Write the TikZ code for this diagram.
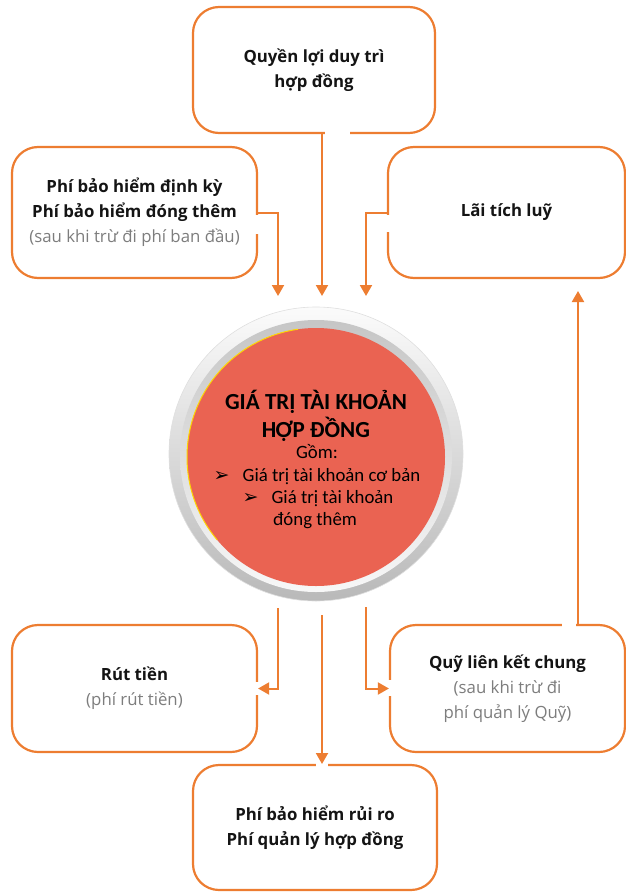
\documentclass[tikz,border=0pt]{standalone}
\usepackage{fontspec}
\setmainfont{Open Sans}
\newfontfamily\carlito{Carlito}
\newfontfamily\dejavu{DejaVu Sans}
\usetikzlibrary{arrows.meta}
\definecolor{orng}{RGB}{237,125,49}
\definecolor{redc}{RGB}{234,99,82}
\definecolor{graytxt}{RGB}{125,125,125}
\definecolor{darktxt}{RGB}{20,20,20}
\begin{document}
\begin{tikzpicture}[x=1pt,y=-1pt,
  box/.style={draw=orng, line width=2.2pt, rounded corners=26pt, fill=white,
    align=center, inner sep=0pt, text=darktxt,
    font=\fontsize{16.8}{25}\selectfont},
  arr/.style={draw=orng, line width=2pt, -{Triangle[width=12pt,length=11pt]}},
  gapline/.style={draw=white, line width=4pt},
  ctitle/.style={font=\carlito\bfseries\fontsize{23}{27}\selectfont, inner sep=0pt},
  ctext/.style={font=\carlito\fontsize{18.8}{22}\selectfont, inner sep=0pt}
]
\useasboundingbox (0,0) rectangle (626,894);

% boxes
\node[box, minimum width=242pt, minimum height=126pt] (q) at (314,70)
  {\textbf{Quyền lợi duy trì}\\\textbf{hợp đồng}};
\node[box, minimum width=245pt, minimum height=131pt] (p) at (134.5,212.5)
  {\textbf{Phí bảo hiểm định kỳ}\\\textbf{Phí bảo hiểm đóng thêm}\\{\color{graytxt}(sau khi trừ đi phí ban đầu)}};
\node[box, minimum width=237pt, minimum height=131pt] (l) at (506.5,212.5)
  {\textbf{Lãi tích luỹ}};
\node[box, minimum width=245pt, minimum height=127pt] (r) at (134.5,688.5)
  {\textbf{Rút tiền}\\{\color{graytxt}(phí rút tiền)}};
\node[box, minimum width=235pt, minimum height=127pt] (f) at (507.5,688.5)
  {\textbf{Quỹ liên kết chung}\\{\color{graytxt}(sau khi trừ đi}\\{\color{graytxt}phí quản lý Quỹ)}};
\node[box, minimum width=244pt, minimum height=125pt] (b) at (315,827.5)
  {\textbf{Phí bảo hiểm rủi ro}\\\textbf{Phí quản lý hợp đồng}};

% gaps in the borders
\draw[gapline] (325,133) -- (350,133);
\draw[gapline] (257,215) -- (257,234);
\draw[gapline] (388,215) -- (388,232);
\draw[gapline] (257,682) -- (257,695);
\draw[gapline] (390,680) -- (390,696);
\draw[gapline] (316,765) -- (328,765);
\draw[gapline] (562,625) -- (576,625);

% central circle
\node[circle, minimum size=294pt, inner sep=0pt, top color=gray!3, bottom color=gray!55,
  draw=gray!25, line width=0.6pt] (cr) at (316,454) {};
\node[circle, minimum size=272pt, inner sep=0pt, top color=gray!45, bottom color=gray!6] (ci) at (316,456) {};
\node[circle, minimum size=258pt, inner sep=0pt, fill=redc] (cc) at (316,457) {};
\draw[yellow!75!orange, line width=1pt] (cc.center) ++(140:129) arc[start angle=140, end angle=262, radius=129];

\node[ctitle] (t1) at (316,402) {GIÁ TRỊ TÀI KHOẢN};
\node[ctitle] (t2) at (316,429) {HỢP ĐỒNG};
\node[ctext] (t3) at (317,452) {Gồm:};
\node[ctext] (t4) at (317,477) {{\dejavu\bfseries\fontsize{19}{20}\selectfont ➢}\hspace{13pt}Giá trị tài khoản cơ bản};
\node[ctext] (t5) at (318,499) {{\dejavu\bfseries\fontsize{19}{20}\selectfont ➢}\hspace{13pt}Giá trị tài khoản};
\node[ctext] (t6) at (315,521) {đóng thêm};

% connector end points
\coordinate (e1) at (278,296);
\coordinate (e2) at (322,296);
\coordinate (e3) at (366,296);
\coordinate (s1) at (278,608);
\coordinate (s2) at (322,615);
\coordinate (s3) at (366,607);
\coordinate (e4) at (322,764);
\coordinate (u0) at (578,626);
\coordinate (u1) at (578,291);

% connectors
\draw[arr] (p.east) -| (e1);
\draw[arr] (q.south -| e2) -- (e2);
\draw[arr] (l.west) -| (e3);
\draw[arr] (s1) |- (r.east);
\draw[arr] (s2) -- (e4);
\draw[arr] (s3) |- (f.west);
\draw[arr] (u0) -- (u1);
\end{tikzpicture}
\end{document}
